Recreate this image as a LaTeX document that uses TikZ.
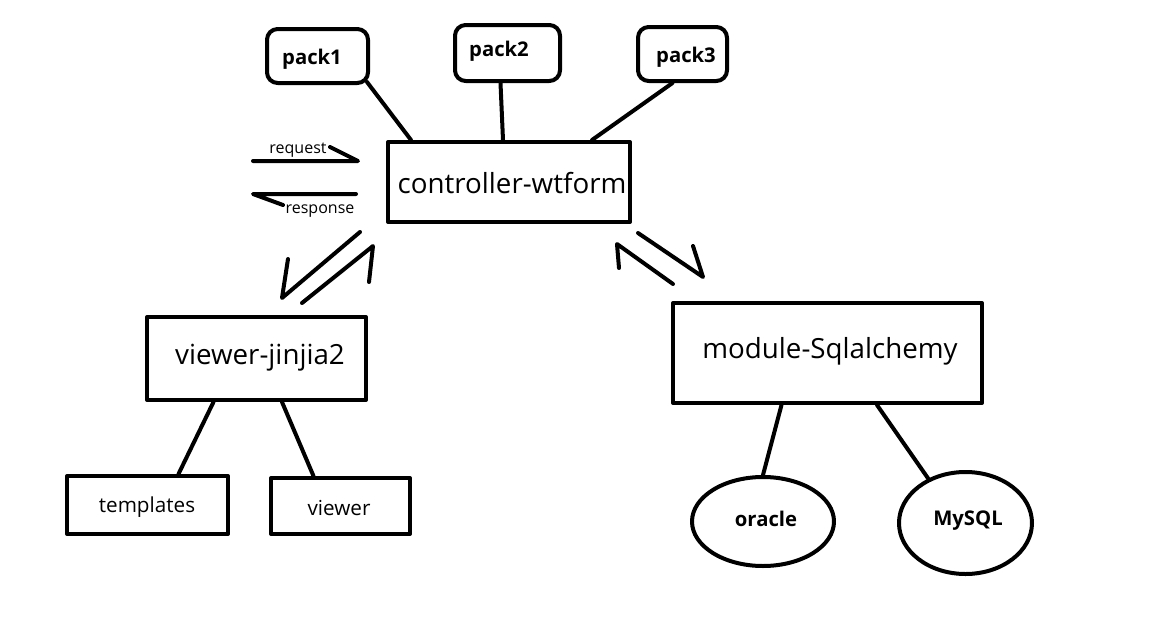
\documentclass[tikz,border=0pt]{standalone}
\usepackage{fontspec}
\setmainfont{Open Sans}
\usetikzlibrary{calc,shapes.geometric}
\begin{document}
\begin{tikzpicture}[x=0.75pt,y=-0.75pt,
  every path/.style={line width=3pt,line cap=round,line join=round},
  box/.style={draw,line width=3pt,rectangle,inner sep=0pt,line cap=rect},
  packbox/.style={box,rounded corners=8pt},
  big/.style={font=\fontsize{20.8}{24}\selectfont},
  mid/.style={font=\fontsize{15.5}{18}\selectfont},
  bld/.style={font=\fontsize{15.2}{18}\selectfont\bfseries},
  lab/.style={font=\fontsize{12}{14}\selectfont,inner sep=0pt},
  db/.style={draw,line width=3pt,ellipse,inner sep=0pt}]
\useasboundingbox[fill=white] (0,0) rectangle (1158,629);
% nodes
\node[box,minimum width=181.5pt,minimum height=60pt] (ctrl) at (509,182) {};
\node[big] at (512,183) {controller-wtform};
\node[packbox,minimum width=75.75pt,minimum height=40.5pt] (p1) at (317.5,56) {};
\node[bld] at (312,59) {pack1};
\node[packbox,minimum width=78.75pt,minimum height=42pt] (p2) at (507.5,53) {};
\node[bld] at (499,51) {pack2};
\node[packbox,minimum width=66.75pt,minimum height=40.5pt] (p3) at (682.5,54) {};
\node[bld] at (686,57) {pack3};
\node[box,minimum width=164.25pt,minimum height=62.25pt] (vj) at (256.5,358.5) {};
\node[big] at (260,358) {viewer-jinjia2};
\node[box,minimum width=120.75pt,minimum height=43.5pt] (tpl) at (147.5,505) {};
\node[mid] at (147,507) {templates};
\node[box,minimum width=104.25pt,minimum height=42pt] (vw) at (340.5,506) {};
\node[mid] at (339,508) {viewer};
\node[box,minimum width=231.75pt,minimum height=75pt] (mod) at (827.5,353) {};
\node[big] at (830,351) {module-Sqlalchemy};
\node[db,minimum width=106.5pt,minimum height=66.75pt] (ora) at (763,521.5) {};
\node[bld] at (766,519) {oracle};
\node[db,minimum width=99.75pt,minimum height=76.5pt] (my) at (965.5,523) {};
\node[bld] at (968,521) {MySQL};
% connectors
\draw ($(p1.south east)+(-3,-3)$) -- ($(ctrl.north west)+(25,0)$);
\draw ($(p2.south)+(-7,0)$) -- ($(ctrl.north)+(-6,0)$);
\draw ($(p3.south)+(-10,0)$) -- ($(ctrl.north east)+(-40,0)$);
\draw ($(vj.south)+(-43,0)$) -- ($(tpl.north)+(31,0)$);
\draw ($(vj.south)+(25.5,0)$) -- ($(vw.north)+(-27,0)$);
\draw ($(mod.south)+(-46,0)$) -- (ora.north);
\draw ($(mod.south)+(49.5,0)$) -- (my.130);
% request / response harpoons
\coordinate (rqA) at (253,161); \coordinate (rqB) at (358,161); \coordinate (rqC) at (330,147);
\draw (rqA) -- (rqB) -- (rqC);
\node[lab] (rq) at (298,150) {request};
\coordinate (rsA) at (356,194); \coordinate (rsB) at (253,194); \coordinate (rsC) at (283,205);
\draw (rsA) -- (rsB) -- (rsC);
\node[lab] (rs) at (320,211) {response};
% diagonal harpoons
\coordinate (l1a) at (360,232); \coordinate (l1b) at (282,298); \coordinate (l1c) at (288,259);
\draw (l1a) -- (l1b) -- (l1c);
\coordinate (l2a) at (302,303); \coordinate (l2b) at (373,246); \coordinate (l2c) at (369,282);
\draw (l2a) -- (l2b) -- (l2c);
\coordinate (r1a) at (638,233); \coordinate (r1b) at (703,277); \coordinate (r1c) at (693,246);
\draw (r1a) -- (r1b) -- (r1c);
\coordinate (r2a) at (673,284); \coordinate (r2b) at (617,244); \coordinate (r2c) at (619,268);
\draw (r2a) -- (r2b) -- (r2c);
\end{tikzpicture}
\end{document}
